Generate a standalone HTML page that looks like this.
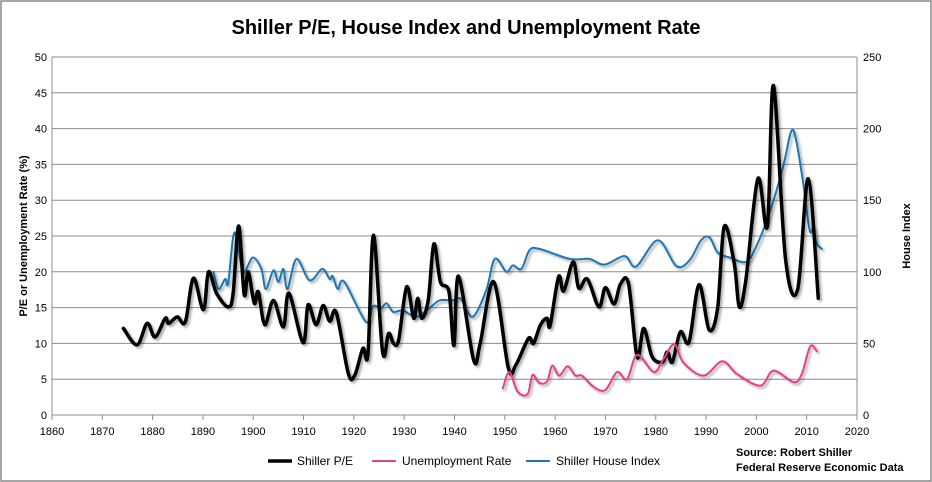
<!DOCTYPE html>
<html><head><meta charset="utf-8">
<style>
html,body{margin:0;padding:0;background:#fff;}
svg{display:block;font-family:"Liberation Sans",Arial,sans-serif;}
</style></head>
<body>
<svg id="chart" width="932" height="482" viewBox="0 0 932 482">
<defs>
<filter id="sh" x="-5%" y="-5%" width="110%" height="110%">
<feDropShadow dx="2" dy="2" stdDeviation="1.2" flood-color="#000" flood-opacity="0.35"/>
</filter>
</defs>
<rect x="1" y="1" width="930" height="480" fill="#fff" stroke="#888" stroke-width="1.5"/>
<text x="466" y="34" text-anchor="middle" font-size="20" font-weight="bold" fill="#000">Shiller P/E, House Index and Unemployment Rate</text>
<g id="grid"></g>
<g id="axes"></g>
<g id="series"></g>
<text transform="translate(27,236) rotate(-90)" text-anchor="middle" font-size="11" font-weight="bold">P/E or Unemployment Rate (%)</text>
<text transform="translate(910,236) rotate(-90)" text-anchor="middle" font-size="11" font-weight="bold">House Index</text>
<g>
<g><line x1="268" y1="461" x2="292" y2="461" stroke="#000" stroke-width="3.5"/><text x="297" y="465" font-size="12">Shiller P/E</text></g>
<g><line x1="372" y1="461" x2="396" y2="461" stroke="#e83e8c" stroke-width="2"/><text x="402" y="465" font-size="12">Unemployment Rate</text></g>
<g><line x1="526" y1="461" x2="550" y2="461" stroke="#1f77b4" stroke-width="2"/><text x="556" y="465" font-size="12">Shiller House Index</text></g>
</g>
<text x="736" y="456" font-size="11" font-weight="bold">Source: Robert Shiller</text>
<text x="736" y="471" font-size="11" font-weight="bold">Federal Reserve Economic Data</text>
</svg>
<script>
const xTicks = [1860,1870,1880,1890,1900,1910,1920,1930,1940,1950,1960,1970,1980,1990,2000,2010,2020];
const yTicks = [0,5,10,15,20,25,30,35,40,45,50];
const y2Ticks = [0,50,100,150,200,250];

const peYears = [1874.2,1876.9,1878.9,1880.5,1882.5,1883.2,1884.9,1886.5,1888.1,1890.1,1891.1,1892.7,1895.0,1896.0,1897.1,1898.2,1899.0,1900.2,1901.0,1902.3,1904.0,1906.0,1907.1,1909.9,1910.9,1912.5,1913.9,1915.2,1916.5,1918.9,1920.2,1921.8,1922.8,1923.9,1925.7,1926.9,1927.9,1928.9,1930.5,1931.9,1932.7,1933.5,1934.8,1935.9,1937.2,1938.9,1939.9,1940.8,1943.8,1945.1,1947.8,1950.7,1952.2,1954.7,1955.7,1957.1,1958.4,1959.0,1960.7,1961.7,1963.6,1964.7,1966.4,1968.7,1970.0,1971.7,1973.0,1974.6,1976.3,1977.6,1979.3,1981.3,1982.3,1983.3,1984.9,1986.6,1988.6,1990.6,1992.3,1993.6,1995.6,1996.6,1997.9,2000.3,2002.2,2003.4,2005.8,2008.2,2010.3,2012.3];
const peValues = [12.1,9.8,12.8,10.9,13.5,12.8,13.7,13.0,19.1,14.7,20.0,17.0,15.1,17.0,26.4,16.8,20.0,15.6,17.2,12.6,16.0,12.3,17.0,10.1,15.4,12.6,15.3,13.1,14.3,5.8,5.6,9.3,8.6,25.1,8.8,11.4,10.0,10.5,17.9,13.5,16.3,13.5,16.1,23.9,18.6,17.2,9.7,19.4,7.7,10.0,18.6,6.6,7.0,10.7,10.0,12.6,13.5,12.5,19.3,17.3,21.4,17.7,19.0,15.1,17.8,15.5,18.3,18.3,8.1,12.1,8.1,7.4,8.8,7.4,11.6,10.2,18.2,11.9,14.9,26.3,21.2,15.1,18.8,33.0,26.4,46.0,21.7,17.5,33.0,16.3];

const unYears = [1949.6,1950.9,1952.5,1954.5,1955.5,1956.8,1958.4,1959.4,1960.8,1962.5,1964.0,1965.3,1967.7,1970.0,1972.3,1974.3,1976.3,1979.6,1981.5,1983.7,1985.5,1989.5,1993.2,1996.2,2000.8,2003.4,2007.4,2009.0,2010.7,2012.0];
const unValues = [3.7,6.0,3.3,2.9,5.6,4.5,4.7,6.9,5.5,6.8,5.5,5.5,3.9,3.5,6.0,5.0,8.4,6.0,7.8,9.9,7.3,5.5,7.5,5.7,4.1,6.2,4.6,5.7,9.6,8.9];

const hiYears = [1892.1,1893.1,1894.4,1895.0,1896.0,1896.7,1898.0,1899.9,1901.6,1902.5,1904.0,1905.0,1906.0,1906.8,1908.6,1911.2,1913.7,1915.2,1915.8,1916.8,1918.1,1922.4,1923.8,1925.4,1926.5,1927.8,1929.7,1932.4,1935.0,1937.0,1939.7,1941.3,1943.6,1946.3,1948.0,1950.3,1951.6,1953.3,1954.9,1956.9,1962.9,1966.8,1969.8,1973.8,1976.1,1980.4,1984.1,1986.7,1989.0,1990.7,1992.3,1994.7,1998.0,2000.0,2002.6,2005.3,2006.9,2007.9,2009.3,2010.6,2011.3,2012.0,2013.0];
const hiValues = [100,88,95,92,124,124,100,110,102,88,101,93,102,88,109,94,102,95,97,88,93,65,76,74.5,78,72,73,68.6,74.5,80,80,81,68.6,87,109,100,104.5,102,115,116,109,109,105,111,103.7,122,104,108,122,124,113.5,110,107,118,141,173,198,192,162,129,131,120,116];

const X0=52,X1=857,Y0=415,Y1=57;
function xs(yr){return X0+(yr-1860)/160*(X1-X0);}
function ys(v){return Y0-v/50*(Y0-Y1);}
function ys2(v){return Y0-v/250*(Y0-Y1);}
const NS="http://www.w3.org/2000/svg";
function mk(tag,attrs,parent){const e=document.createElementNS(NS,tag);for(const k in attrs)e.setAttribute(k,attrs[k]);parent.appendChild(e);return e;}
const grid=document.getElementById('grid'),axes=document.getElementById('axes'),series=document.getElementById('series');
yTicks.forEach(t=>{
  const y=ys(t);
  if(t>0){const l=mk('line',{x1:X0,x2:X1,y1:y,y2:y,stroke:'#8c8c8c','stroke-width':1},grid);
  
  }
  const tx=mk('text',{x:X0-5,y:y+4,'text-anchor':'end','font-size':11},axes);tx.textContent=t;
  
  
});
y2Ticks.forEach(t=>{
  const y=ys2(t);
  const tx=mk('text',{x:X1+6,y:y+4,'text-anchor':'start','font-size':11},axes);tx.textContent=t;
  
  
});
mk('line',{x1:X0,x2:X1,y1:Y0,y2:Y0,stroke:'#8c8c8c','stroke-width':1},axes);
mk('line',{x1:X0,x2:X0,y1:Y1,y2:Y0,stroke:'#8c8c8c','stroke-width':1},axes);
mk('line',{x1:X1,x2:X1,y1:Y1,y2:Y0,stroke:'#8c8c8c','stroke-width':1},axes);
xTicks.forEach(t=>{
  const x=xs(t);
  mk('line',{x1:x,x2:x,y1:Y0,y2:Y0+5,stroke:'#8c8c8c'},axes);
  const tx=mk('text',{x:x,y:Y0+20,'text-anchor':'middle','font-size':11},axes);tx.textContent=t;
  
  
});
function smooth(pts){
  let d='M'+pts[0][0].toFixed(1)+','+pts[0][1].toFixed(1);
  for(let i=0;i<pts.length-1;i++){
    const p0=pts[i-1]||pts[i],p1=pts[i],p2=pts[i+1],p3=pts[i+2]||p2;
    const c1=[p1[0]+(p2[0]-p0[0])/6,p1[1]+(p2[1]-p0[1])/6];
    const c2=[p2[0]-(p3[0]-p1[0])/6,p2[1]-(p3[1]-p1[1])/6];
    d+='C'+c1.map(v=>v.toFixed(1))+' '+c2.map(v=>v.toFixed(1))+' '+p2[0].toFixed(1)+','+p2[1].toFixed(1);
  }
  return d;
}
function draw(years,vals,yf,color,w,name){
  const pts=years.map((y,i)=>[xs(y),yf(vals[i])]);
  const p=mk('path',{d:smooth(pts),fill:'none',stroke:color,'stroke-width':w,'stroke-linejoin':'round','stroke-linecap':'round',filter:'url(#sh)'},series);
  
  
}
draw(hiYears,hiValues,ys2,'#1f77b4',2,'house-index-line');
draw(peYears,peValues,ys,'#000',3.5,'shiller-pe-line');
draw(unYears,unValues,ys,'#e83e8c',2,'unemployment-rate-line');
</script>
</body></html>
